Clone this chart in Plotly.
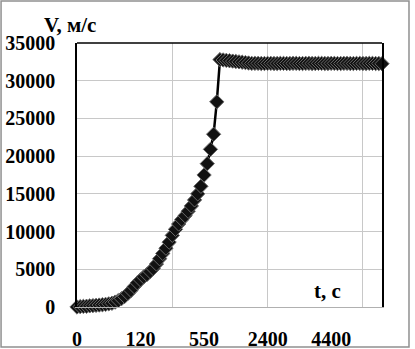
import plotly.graph_objects as go

# speed values V (m/s) for each time sample (category index along the axis)
speed = [
    0, 50, 80, 100, 150, 180, 220, 260, 300, 350,
    420, 500, 650, 850, 1100, 1400, 1800, 2200, 2700, 3200,
    3600, 4000, 4300, 4700, 5100, 5700, 6400, 7100, 7800, 8600,
    9500, 10300, 11000, 11600, 12100, 12700, 13400, 14200, 15000, 16000,
    17500, 19000, 20900, 22900, 27200, 32800, 32750, 32700, 32650, 32600,
    32550, 32500, 32450, 32400, 32350, 32300, 32300, 32300, 32280, 32280,
    32300, 32300, 32280, 32280, 32300, 32300, 32280, 32280, 32300, 32300,
    32280, 32280, 32300, 32300, 32280, 32280, 32300, 32300, 32280, 32280,
    32300, 32300, 32280, 32280, 32300, 32300, 32280, 32280, 32300, 32300,
    32280, 32280, 32300, 32300, 32280, 32280, 32250,
]
sample_index = list(range(len(speed)))

# time tick labels shown on the category axis
tick_positions = [0, 20, 40, 60, 80]
tick_labels = ["0", "120", "550", "2400", "4400"]
grid_positions = [30, 60, 90]

FONT = "Liberation Serif"

fig = go.Figure()
fig.add_trace(go.Scatter(
    x=sample_index, y=speed, mode="lines+markers",
    line=dict(color="#000000", width=2.5),
    marker=dict(symbol="diamond", size=11, color="#111111",
                line=dict(color="#6a6a6a", width=1)),
    cliponaxis=False, showlegend=False,
))

fig.update_layout(
    width=415, height=349,
    margin=dict(l=77, r=33, t=43, b=42, autoexpand=False),
    paper_bgcolor="white", plot_bgcolor="white",
    font=dict(family=FONT, size=20, color="#000000"),
    xaxis=dict(
        range=[0, len(speed) - 1], automargin=False,
        tickmode="array", tickvals=tick_positions, ticktext=tick_labels,
        showgrid=False, zeroline=False,
        showline=True, linecolor="#b0b0b0", linewidth=1,
        ticks="", ticklabelstandoff=14,
        tickfont=dict(family=FONT, size=20, color="#000000", weight="bold"),
        minor=dict(tickmode="array", tickvals=grid_positions, showgrid=True,
                   gridcolor="#c8c8c8", gridwidth=1, ticks=""),
    ),
    yaxis=dict(
        range=[0, 35000], dtick=5000, tickformat="d", automargin=False,
        showgrid=True, gridcolor="#c8c8c8", gridwidth=1, zeroline=False,
        showline=True, linecolor="#000000", linewidth=1.5, mirror=True,
        ticks="", ticklabelstandoff=16,
        tickfont=dict(family=FONT, size=20, color="#000000", weight="bold"),
    ),
)

# top border of plot area
fig.add_shape(type="line", xref="paper", yref="paper", x0=0, x1=1, y0=1, y1=1,
              line=dict(color="#000000", width=1.5))
# outer chart border
fig.add_shape(type="rect", xref="paper", yref="paper",
              x0=-0.249, x1=1.0885, y0=-0.1515, y1=1.159,
              line=dict(color="#909090", width=1.5))

fig.add_annotation(text="<b>V, м/с</b>", xref="paper", yref="paper",
                   x=-0.115, y=1.07, xanchor="left", yanchor="middle",
                   showarrow=False, font=dict(family=FONT, size=21, color="#000000"))
fig.add_annotation(text="<b>t, c</b>", xref="paper", yref="paper",
                   x=0.77, y=0.06, xanchor="left", yanchor="middle",
                   showarrow=False, font=dict(family=FONT, size=21, color="#000000"))

# remove the default page margin so the figure sits at the window's corner
fig.write_html("out.html", config={"displayModeBar": False},
               post_script="document.body.style.margin='0px';")
